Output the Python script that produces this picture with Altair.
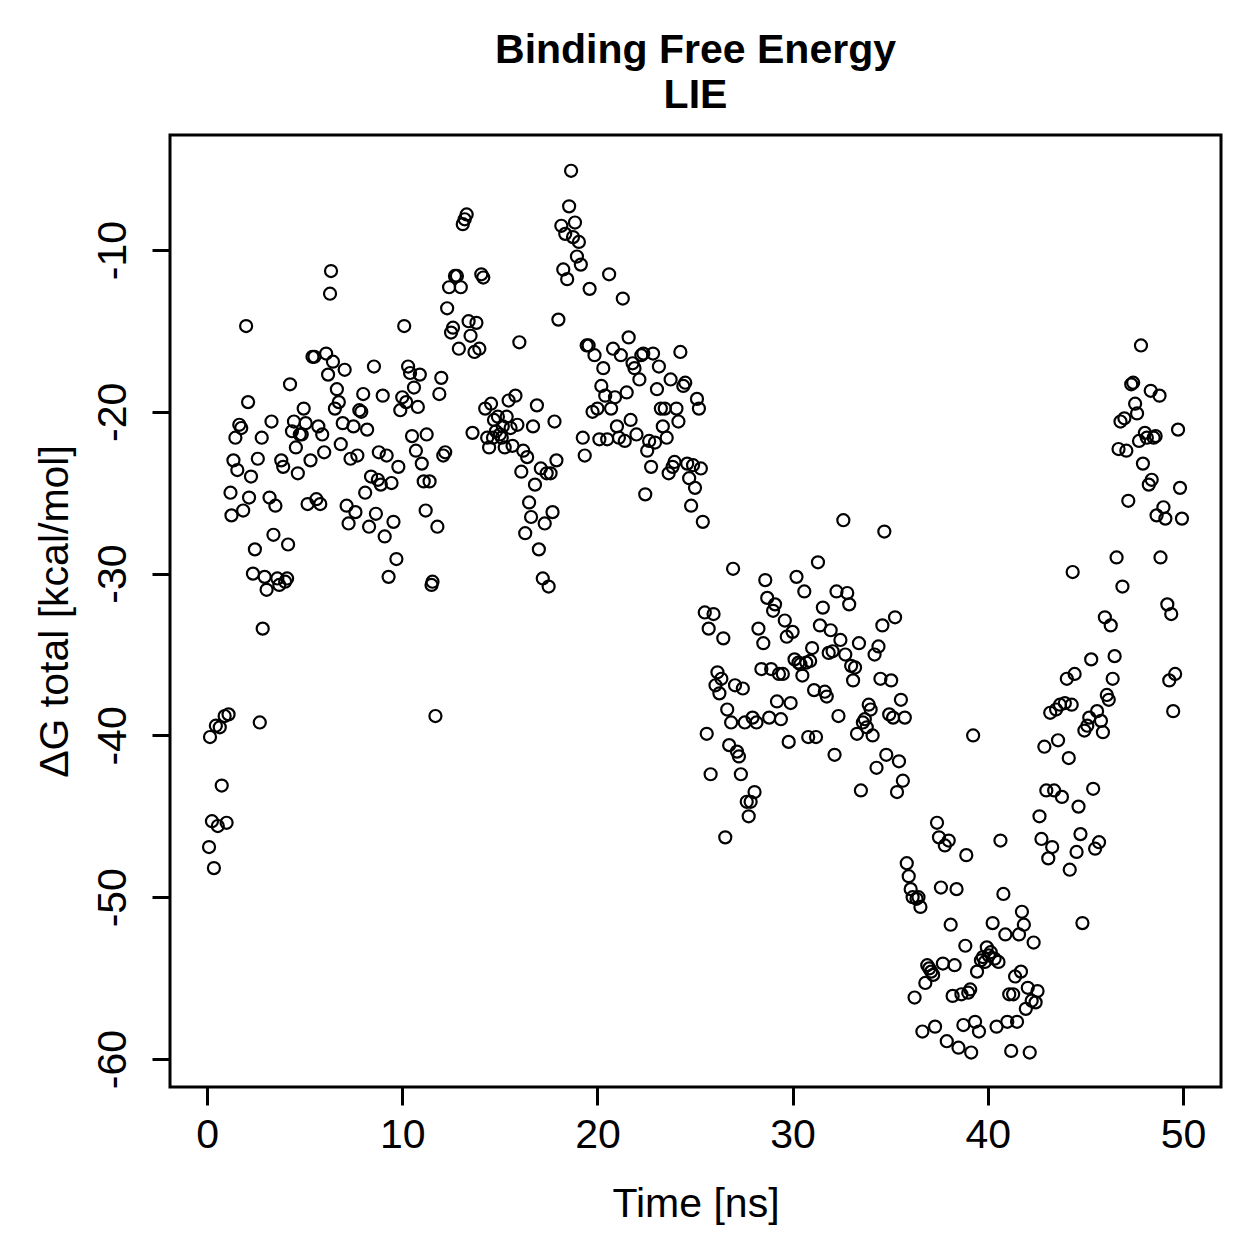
import altair as alt
import pandas as pd

# (time [ns], dG total [kcal/mol]), by phase
phase_a = [
    (0.1, -46.9), (0.15, -40.1), (0.25, -45.3), (0.35, -48.2), (0.45, -39.4), (0.55, -45.6),
    (0.65, -39.5), (0.75, -43.1), (0.9, -38.8), (1.0, -45.4), (1.1, -38.7), (1.2, -25.0),
    (1.25, -26.4), (1.35, -23.0), (1.45, -21.6), (1.55, -23.6), (1.65, -20.8), (1.75, -21.0),
    (1.85, -26.1), (2.0, -14.7), (2.1, -19.4), (2.15, -25.3), (2.25, -24.0), (2.35, -30.0),
    (2.45, -28.5), (2.6, -22.9), (2.7, -39.2), (2.8, -21.6), (2.85, -33.4), (2.95, -30.2),
    (3.05, -31.0), (3.2, -25.3), (3.3, -20.6), (3.4, -27.6), (3.5, -25.8), (3.6, -30.3),
    (3.7, -30.7), (3.8, -23.0), (3.9, -23.4), (4.0, -30.5), (4.1, -30.3), (4.15, -28.2),
    (4.25, -18.3), (4.35, -21.2), (4.45, -20.6), (4.55, -22.2), (4.65, -23.8), (4.75, -21.4),
    (4.85, -21.4), (4.95, -19.8), (5.05, -20.7), (5.15, -25.7), (5.3, -23.0), (5.4, -16.6),
    (5.5, -16.6), (5.6, -25.4), (5.7, -20.9), (5.8, -25.7), (5.9, -21.4), (6.0, -22.5),
    (6.1, -16.4), (6.2, -17.7), (6.3, -12.7), (6.35, -11.3), (6.45, -16.9), (6.55, -19.8),
    (6.65, -18.6), (6.75, -19.4), (6.85, -22.0), (6.95, -20.7), (7.05, -17.4), (7.15, -25.8),
    (7.25, -26.9), (7.35, -22.9), (7.5, -20.9), (7.6, -26.2), (7.7, -22.7), (7.8, -19.9),
    (7.9, -20.0), (8.0, -18.9), (8.1, -25.0), (8.2, -21.1), (8.3, -27.1), (8.4, -24.0),
    (8.55, -17.2), (8.65, -26.3), (8.75, -24.2), (8.8, -22.5), (8.9, -24.5), (9.0, -19.0),
    (9.1, -27.7), (9.2, -22.7), (9.3, -30.2), (9.45, -24.4), (9.55, -26.8), (9.7, -29.1),
    (9.8, -23.4), (9.9, -19.9), (10.0, -19.1), (10.1, -14.7), (10.2, -19.4), (10.3, -17.2),
    (10.4, -17.6), (10.5, -21.5), (10.6, -18.5), (10.7, -22.4), (10.8, -19.7), (10.9, -17.7),
    (11.0, -23.2), (11.1, -24.3), (11.2, -26.1), (11.25, -21.4), (11.4, -24.3), (11.5, -30.7),
    (11.55, -30.5), (11.7, -38.8), (11.8, -27.1), (11.9, -18.9), (12.0, -17.9), (12.1, -22.7),
    (12.2, -22.5),
]

phase_b = [
    (12.3, -13.6), (12.4, -12.3), (12.5, -15.1), (12.6, -14.8), (12.7, -11.6), (12.8, -11.6),
    (12.9, -16.1), (13.0, -12.3), (13.1, -8.4), (13.2, -8.1), (13.3, -7.8), (13.4, -14.4),
    (13.5, -15.3), (13.6, -21.3), (13.7, -16.3), (13.8, -14.5), (13.95, -16.1), (14.05, -11.5),
    (14.15, -11.7), (14.25, -19.8), (14.35, -21.6), (14.45, -22.2), (14.55, -19.5), (14.65, -21.6),
    (14.7, -20.5), (14.8, -21.2), (14.9, -20.3), (15.0, -21.4), (15.1, -21.6), (15.15, -20.9),
    (15.25, -22.2), (15.35, -20.3), (15.45, -19.3), (15.55, -21.0), (15.65, -22.1), (15.8, -19.0),
    (15.9, -20.8), (16.0, -15.7), (16.1, -23.7), (16.2, -22.4), (16.3, -27.5), (16.4, -22.8),
    (16.5, -25.6), (16.6, -26.5), (16.7, -20.9), (16.8, -24.5), (16.9, -19.6), (17.0, -28.5),
    (17.1, -23.5), (17.2, -30.3), (17.3, -26.9), (17.4, -23.8), (17.5, -30.8), (17.6, -23.8),
    (17.7, -26.2), (17.8, -20.6), (17.9, -23.0), (18.0, -14.3), (18.15, -8.5), (18.25, -11.2),
    (18.35, -9.0), (18.45, -11.8), (18.55, -7.3), (18.65, -5.1), (18.75, -9.2), (18.85, -8.3),
    (18.95, -10.4), (19.05, -9.5), (19.15, -10.9), (19.25, -21.6), (19.35, -22.7), (19.45, -15.9),
    (19.55, -15.9), (19.6, -12.4), (19.75, -20.0), (19.85, -16.5), (20.0, -19.8), (20.1, -21.7),
    (20.2, -18.4), (20.3, -17.3), (20.4, -19.0), (20.5, -21.7), (20.6, -11.5), (20.7, -19.8),
    (20.8, -16.1), (20.9, -19.1), (21.0, -20.9), (21.1, -21.6), (21.2, -16.5), (21.3, -13.0),
    (21.4, -21.8), (21.5, -18.8), (21.6, -15.4), (21.7, -20.5), (21.8, -17.0), (21.9, -17.3),
    (22.0, -21.4), (22.15, -18.0), (22.25, -16.5), (22.35, -16.4), (22.45, -25.1), (22.55, -22.4),
    (22.65, -21.8), (22.75, -23.4), (22.85, -16.4), (22.95, -21.9), (23.05, -18.6), (23.15, -17.2),
    (23.25, -19.8), (23.35, -20.9), (23.45, -19.8), (23.55, -21.6), (23.65, -23.8), (23.75, -18.0),
    (23.85, -23.4), (23.95, -23.1), (24.05, -19.8), (24.15, -20.6), (24.25, -16.3), (24.4, -18.4),
    (24.5, -18.2), (24.6, -23.2), (24.7, -24.1), (24.8, -25.8), (24.9, -23.3), (25.0, -24.7),
    (25.1, -19.2), (25.2, -19.8), (25.3, -23.5), (25.4, -26.8),
]

phase_c = [
    (25.5, -32.4), (25.6, -39.9), (25.7, -33.4), (25.8, -42.4), (25.95, -32.5), (26.05, -36.9),
    (26.15, -36.1), (26.25, -37.4), (26.35, -36.5), (26.45, -34.0), (26.55, -46.3), (26.65, -38.4),
    (26.75, -40.6), (26.85, -39.2), (26.95, -29.7), (27.05, -36.9), (27.15, -41.0), (27.25, -41.3),
    (27.35, -42.4), (27.45, -37.1), (27.55, -39.2), (27.65, -44.1), (27.75, -45.0), (27.85, -44.1),
    (27.95, -38.9), (28.05, -43.5), (28.15, -39.2), (28.25, -33.4), (28.4, -35.9), (28.5, -34.3),
    (28.6, -30.4), (28.7, -31.5), (28.8, -38.9), (28.9, -35.9), (29.0, -32.3), (29.1, -31.9),
    (29.2, -37.9), (29.3, -36.2), (29.4, -39.0), (29.5, -36.2), (29.6, -32.9), (29.7, -33.9),
    (29.8, -40.4), (29.9, -38.0), (30.0, -33.6), (30.1, -35.3), (30.2, -30.2), (30.3, -35.5),
    (30.4, -35.6), (30.5, -36.3), (30.6, -31.1), (30.7, -35.5), (30.8, -40.1), (30.9, -35.4),
    (31.0, -34.6), (31.1, -37.2), (31.2, -40.1), (31.3, -29.3), (31.4, -33.2), (31.55, -32.1),
    (31.65, -37.3), (31.75, -37.6), (31.85, -34.9), (31.95, -33.5), (32.05, -34.8), (32.15, -41.2),
    (32.25, -31.1), (32.35, -38.8), (32.45, -34.1), (32.6, -26.7), (32.7, -35.0), (32.8, -31.2),
    (32.9, -31.9), (33.0, -35.7), (33.1, -36.6), (33.2, -35.8), (33.3, -39.9), (33.4, -34.3),
    (33.5, -43.4), (33.6, -39.2), (33.7, -39.0), (33.8, -39.5), (33.9, -38.1), (34.0, -38.4),
    (34.1, -40.0), (34.2, -35.0), (34.3, -42.0), (34.4, -34.5), (34.5, -36.5), (34.6, -33.2),
    (34.7, -27.4), (34.8, -41.2), (34.95, -38.7), (35.05, -36.6), (35.15, -38.9), (35.25, -32.7),
    (35.35, -43.5), (35.45, -41.6), (35.55, -37.8), (35.65, -42.8), (35.75, -38.9),
]

phase_d = [
    (35.85, -47.9), (35.95, -48.7), (36.05, -49.5), (36.15, -50.0), (36.25, -56.2), (36.35, -50.1),
    (36.45, -50.0), (36.55, -50.6), (36.65, -58.3), (36.8, -55.3), (36.9, -54.2), (37.0, -54.4),
    (37.1, -54.6), (37.2, -54.8), (37.3, -58.0), (37.4, -45.4), (37.5, -46.3), (37.6, -49.4),
    (37.7, -54.1), (37.8, -46.8), (37.9, -58.9), (38.0, -46.5), (38.1, -51.7), (38.2, -56.1),
    (38.3, -54.2), (38.4, -49.5), (38.5, -59.3), (38.65, -56.0), (38.75, -57.9), (38.85, -53.0),
    (38.9, -47.4), (39.0, -55.9), (39.1, -55.7), (39.15, -59.6), (39.25, -40.0), (39.35, -57.7),
    (39.45, -54.6), (39.55, -58.3), (39.65, -53.9), (39.75, -53.7), (39.85, -54.0), (39.95, -53.1),
    (40.05, -53.6), (40.15, -53.4), (40.25, -51.6), (40.35, -53.8), (40.45, -58.0), (40.55, -54.0),
    (40.65, -46.5), (40.8, -49.8), (40.9, -52.3), (41.0, -57.7), (41.1, -56.0), (41.2, -59.5),
    (41.3, -56.0), (41.4, -54.9), (41.5, -57.7), (41.6, -52.3), (41.7, -54.6), (41.75, -50.9),
    (41.85, -51.7), (41.95, -56.9), (42.05, -55.6), (42.15, -59.6), (42.25, -56.4), (42.35, -52.8),
    (42.45, -56.5), (42.55, -55.8),
]

phase_e = [
    (42.65, -45.0), (42.75, -46.4), (42.9, -40.7), (43.0, -43.4), (43.1, -47.6), (43.2, -38.6),
    (43.3, -46.9), (43.4, -43.4), (43.5, -38.4), (43.6, -40.3), (43.7, -38.1), (43.8, -43.8),
    (43.95, -38.0), (44.05, -36.5), (44.15, -41.4), (44.2, -48.3), (44.3, -38.1), (44.35, -29.9),
    (44.45, -36.2), (44.55, -47.2), (44.65, -44.4), (44.75, -46.1), (44.85, -51.6), (44.95, -39.7),
    (45.1, -39.4), (45.2, -38.9), (45.3, -35.3), (45.4, -43.3), (45.5, -47.0), (45.6, -38.5),
    (45.7, -46.6), (45.8, -39.1), (45.9, -39.8), (46.0, -32.7), (46.1, -37.5), (46.2, -37.8),
    (46.3, -33.2), (46.4, -36.5), (46.5, -35.1), (46.6, -29.0), (46.7, -22.3), (46.8, -20.6),
    (46.9, -30.8), (47.0, -20.4), (47.1, -22.4), (47.2, -25.5), (47.35, -18.3), (47.45, -18.2),
    (47.55, -19.5), (47.65, -20.1), (47.75, -21.8), (47.85, -15.9), (47.95, -23.2), (48.05, -21.3),
    (48.15, -21.6), (48.25, -24.5), (48.35, -18.7), (48.4, -24.2), (48.5, -21.6), (48.6, -21.5),
    (48.65, -26.4), (48.8, -19.0), (48.85, -29.0), (49.0, -25.9), (49.1, -26.6), (49.2, -31.9),
    (49.3, -36.6), (49.4, -32.5), (49.5, -38.5), (49.6, -36.2), (49.75, -21.1), (49.85, -24.7),
    (49.95, -26.6),
]

x_ticks = [0, 10, 20, 30, 40, 50]
y_ticks = [-60, -50, -40, -30, -20, -10]

rows = phase_a + phase_b + phase_c + phase_d + phase_e
df = pd.DataFrame(rows, columns=["time", "dg"])

FONT = "Liberation Sans"

chart = (
    alt.Chart(df)
    .mark_point(shape="circle", filled=False, color="black", size=145, strokeWidth=2.2, opacity=1)
    .encode(
        x=alt.X(
            "time:Q",
            scale=alt.Scale(domain=[-1.9, 51.95], nice=False, zero=False),
            axis=alt.Axis(
                values=x_ticks,
                title="Time [ns]",
                grid=False,
                domain=False,
                tickSize=18,
                tickWidth=3,
                tickColor="black",
                labelFont=FONT,
                labelFontSize=41,
                labelColor="black",
                labelPadding=10,
                labelBaseline="top",
                labelExpr="'' + datum.value",
                titleFont=FONT,
                titleFontSize=41,
                titleFontWeight="normal",
                titleColor="black",
                titleBaseline="alphabetic",
                titleY=129,
            ),
        ),
        y=alt.Y(
            "dg:Q",
            scale=alt.Scale(domain=[-61.73, -2.89], nice=False, zero=False),
            axis=alt.Axis(
                values=y_ticks,
                title="ΔG total [kcal/mol]",
                grid=False,
                domain=False,
                tickSize=18,
                tickWidth=3,
                tickColor="black",
                labelFont=FONT,
                labelFontSize=41,
                labelColor="black",
                labelAngle=270,
                labelAlign="center",
                labelBaseline="alphabetic",
                labelPadding=27,
                labelExpr="'' + datum.value",
                titleFont=FONT,
                titleFontSize=41,
                titleFontWeight="normal",
                titleColor="black",
                titleAngle=270,
                titleBaseline="alphabetic",
                titleX=-103,
            ),
        ),
    )
    .properties(
        width=1051,
        height=952,
        background="white",
        autosize=alt.AutoSizeParams(type="none"),
        padding={"left": 170, "top": 135, "right": 38, "bottom": 172},
        title=alt.TitleParams(
            text=["Binding Free Energy", "LIE"],
            font=FONT,
            fontSize=41,
            fontWeight="bold",
            color="black",
            anchor="middle",
            baseline="alphabetic",
            lineHeight=45,
            offset=28,
            dy=42,
        ),
    )
    .configure_view(stroke="black", strokeWidth=3)
)

chart.save("out.html", embed_options={"renderer": "svg", "actions": False})
